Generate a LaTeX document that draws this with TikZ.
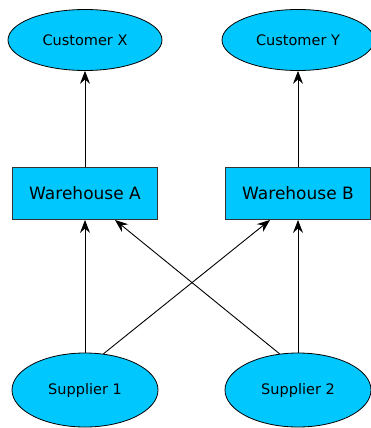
\documentclass[tikz,border=0pt]{standalone}
\usepackage{fontspec}
\setmainfont{DejaVu Sans}
\usetikzlibrary{shapes.geometric,arrows.meta}
\definecolor{nodefill}{HTML}{00C8FF}
\tikzset{
  x=1pt, y=-1pt,
  party/.style={ellipse, draw=black, fill=nodefill, line width=0.8pt, inner sep=0pt,
                font=\fontsize{14.5}{17}\selectfont},
  depot/.style={rectangle, draw=black!80, fill=nodefill, line width=0.9pt, inner sep=0pt,
                minimum width=145pt, minimum height=52pt, font=\fontsize{17}{20}\selectfont},
  flow/.style={-{Stealth[length=13pt, width=10pt, inset=4.5pt]}, line width=0.9pt},
}
\begin{document}
\begin{tikzpicture}
\useasboundingbox (0,0) rectangle (371,428);
% customers
\node[party, minimum width=154pt, minimum height=61pt] (cx) at (85,40) {Customer X};
\node[party, minimum width=152pt, minimum height=61pt] (cy) at (298,40) {Customer Y};
% warehouses
\node[depot] (wa) at (85,193.5) {Warehouse A};
\node[depot] (wb) at (298,193.5) {Warehouse B};
% suppliers
\node[party, minimum width=146pt, minimum height=74pt] (s1) at (85,390) {Supplier 1};
\node[party, minimum width=146pt, minimum height=74pt] (s2) at (298,390) {Supplier 2};
% flows
\draw[flow] (wa.north) -- (cx.south);
\draw[flow] (wb.north) -- (cy.south);
\draw[flow] (s1.north) -- (wa.south);
\draw[flow] (s2.north) -- (wb.south);
\draw[flow] (s1.63) -- (wb.south west -| 270,0) ;
\draw[flow] (s2.117) -- (wa.south east -| 115,0);
\end{tikzpicture}
\end{document}
